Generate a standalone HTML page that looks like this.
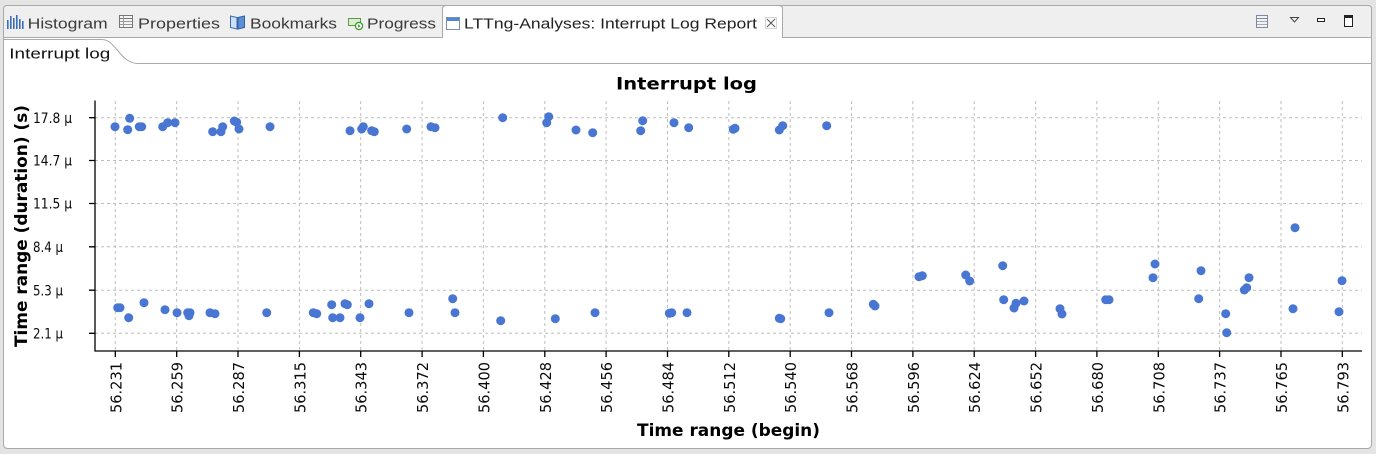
<!DOCTYPE html>
<html>
<head>
<meta charset="utf-8">
<style>
html,body{margin:0;padding:0;background:#e4e4e4;}
svg{display:block;}
text{font-family:"DejaVu Sans","Liberation Sans",sans-serif;}
.tab{font-family:"Liberation Sans","DejaVu Sans",sans-serif;font-size:15px;fill:#3a3a3a;}
.yt{font-size:14px;fill:#0a0a0a;}
.xt{font-size:15px;fill:#0a0a0a;}
.grid{stroke:#bdbdbd;stroke-width:1;stroke-dasharray:3,3;fill:none;}
.pt{fill:#4876d2;}
</style>
</head>
<body>
<svg width="1376" height="454" viewBox="0 0 1376 454" xmlns="http://www.w3.org/2000/svg">
  <rect x="0" y="0" width="1376" height="454" fill="#e4e4e4"/>
  <path d="M3.5,37.5 L3.5,9 Q3.5,5.5 7,5.5 L1368,5.5 Q1371.5,5.5 1371.5,9 L1371.5,37.5" fill="#efefef" stroke="#a9a9a9"/>
  <path d="M3.5,37.5 L3.5,444 Q3.5,448.5 8,448.5 L1367,448.5 Q1371.5,448.5 1371.5,444 L1371.5,37.5 Z" fill="#ffffff" stroke="#a9a9a9"/>
  <path d="M442.5,38 L442.5,9 Q442.5,5.5 446,5.5 L779,5.5 Q782.5,5.5 782.5,9 L782.5,38" fill="#ffffff" stroke="#a9a9a9"/>
  <rect x="443" y="36" width="339" height="3" fill="#ffffff"/>

  <g fill="#3d6fb8">
    <rect x="7" y="20" width="1.6" height="9"/>
    <rect x="10" y="16" width="1.6" height="13"/>
    <rect x="13" y="18" width="1.6" height="11"/>
    <rect x="16" y="15" width="1.6" height="14"/>
    <rect x="19" y="19" width="1.6" height="10"/>
    <rect x="22" y="21" width="1.6" height="8"/>
  </g>
  <g>
    <rect x="119.5" y="15.5" width="13" height="12" fill="#f4f4f4" stroke="#777"/>
    <line x1="120" y1="18.5" x2="132" y2="18.5" stroke="#777"/>
    <line x1="120" y1="21.5" x2="132" y2="21.5" stroke="#999"/>
    <line x1="120" y1="24.5" x2="132" y2="24.5" stroke="#999"/>
    <line x1="123.5" y1="16" x2="123.5" y2="27" stroke="#999"/>
  </g>
  <g>
    <path d="M230.5,16 L237,17.5 L237,29 L230.5,27.5 Z" fill="#cfe0f5" stroke="#3b6db5"/>
    <path d="M238,17.5 L244.5,16 L244.5,27.5 L238,29 Z" fill="#5d8fd6" stroke="#2f5fa5"/>
  </g>
  <g>
    <rect x="348.5" y="18.5" width="12" height="7" fill="#d9efd0" stroke="#5a9a45"/>
    <circle cx="359" cy="26" r="3.6" fill="#ffffff" stroke="#3e9a2c" stroke-width="1.3"/>
    <path d="M358,24.3 L360.6,26 L358,27.7 Z" fill="#3e9a2c"/>
  </g>
  <g>
    <rect x="446.5" y="17.5" width="13" height="12" fill="#ffffff" stroke="#7a8fa8"/>
    <rect x="447" y="18" width="12" height="3" fill="#4f8ad6"/>
  </g>
  <g stroke="#555" stroke-width="1" fill="none">
    <path d="M767,19 L775,27 M775,19 L767,27"/>
    <rect x="765.5" y="17.5" width="11" height="11" stroke="#aaa" stroke-dasharray="1,1"/>
  </g>
  <g>
    <rect x="1256.5" y="15.5" width="11" height="12" fill="#f2f2f2" stroke="#7a8aa0"/>
    <line x1="1257" y1="18.5" x2="1267" y2="18.5" stroke="#7a8aa0"/>
    <line x1="1257" y1="21.5" x2="1267" y2="21.5" stroke="#a0a8b4"/>
    <line x1="1257" y1="24.5" x2="1267" y2="24.5" stroke="#a0a8b4"/>
    <path d="M1290.5,17.5 L1298.5,17.5 L1294.5,22 Z" fill="none" stroke="#444"/>
    <rect x="1317.5" y="18.5" width="7" height="3" fill="#fff" stroke="#222"/>
    <rect x="1344.5" y="15.5" width="8" height="11" fill="#fff" stroke="#222"/>
    <line x1="1345" y1="17" x2="1352" y2="17" stroke="#222" stroke-width="2"/>
  </g>

  <text class="tab" x="27.7" y="28.3" textLength="80" lengthAdjust="spacingAndGlyphs">Histogram</text>
  <text class="tab" x="138" y="28.3" textLength="82" lengthAdjust="spacingAndGlyphs">Properties</text>
  <text class="tab" x="250" y="28.3" textLength="87" lengthAdjust="spacingAndGlyphs">Bookmarks</text>
  <text class="tab" x="367" y="28.3" textLength="69" lengthAdjust="spacingAndGlyphs">Progress</text>
  <text class="tab" x="464" y="28.3" textLength="293" lengthAdjust="spacingAndGlyphs" style="fill:#222">LTTng-Analyses: Interrupt Log Report</text>

  <path d="M4,39.5 L102,39.5 C116,39.5 120,63.5 138,63.5 L1371,63.5" fill="none" stroke="#a9a9a9"/>
  <text class="tab" x="9.3" y="58.3" textLength="101" lengthAdjust="spacingAndGlyphs" style="fill:#111">Interrupt log</text>

  <text x="616" y="89.5" font-size="17" font-weight="bold" fill="#000" textLength="141" lengthAdjust="spacingAndGlyphs">Interrupt log</text>

  <g class="grid">
    <line x1="95" y1="117.7" x2="1362" y2="117.7"/>
    <line x1="95" y1="160.5" x2="1362" y2="160.5"/>
    <line x1="95" y1="203.5" x2="1362" y2="203.5"/>
    <line x1="95" y1="246.8" x2="1362" y2="246.8"/>
    <line x1="95" y1="290.2" x2="1362" y2="290.2"/>
    <line x1="95" y1="333.3" x2="1362" y2="333.3"/>
    <line x1="115.3" y1="101" x2="115.3" y2="351"/>
    <line x1="176.7" y1="101" x2="176.7" y2="351"/>
    <line x1="238.0" y1="101" x2="238.0" y2="351"/>
    <line x1="299.4" y1="101" x2="299.4" y2="351"/>
    <line x1="360.7" y1="101" x2="360.7" y2="351"/>
    <line x1="422.1" y1="101" x2="422.1" y2="351"/>
    <line x1="483.4" y1="101" x2="483.4" y2="351"/>
    <line x1="544.8" y1="101" x2="544.8" y2="351"/>
    <line x1="606.1" y1="101" x2="606.1" y2="351"/>
    <line x1="667.5" y1="101" x2="667.5" y2="351"/>
    <line x1="728.8" y1="101" x2="728.8" y2="351"/>
    <line x1="790.2" y1="101" x2="790.2" y2="351"/>
    <line x1="851.5" y1="101" x2="851.5" y2="351"/>
    <line x1="912.9" y1="101" x2="912.9" y2="351"/>
    <line x1="974.2" y1="101" x2="974.2" y2="351"/>
    <line x1="1035.6" y1="101" x2="1035.6" y2="351"/>
    <line x1="1096.9" y1="101" x2="1096.9" y2="351"/>
    <line x1="1158.3" y1="101" x2="1158.3" y2="351"/>
    <line x1="1219.6" y1="101" x2="1219.6" y2="351"/>
    <line x1="1281.0" y1="101" x2="1281.0" y2="351"/>
    <line x1="1342.3" y1="101" x2="1342.3" y2="351"/>
  </g>

  <g stroke="#000" stroke-width="1.3" fill="none">
    <line x1="95" y1="100.5" x2="95" y2="351.5"/>
    <line x1="94.5" y1="351" x2="1362" y2="351"/>
    <path d="M89,117.7 H95 M89,160.5 H95 M89,203.5 H95 M89,246.8 H95 M89,290.2 H95 M89,333.3 H95"/>
    <path d="M115.3,351 V357 M176.7,351 V357 M238.0,351 V357 M299.4,351 V357 M360.7,351 V357 M422.1,351 V357 M483.4,351 V357 M544.8,351 V357 M606.1,351 V357 M667.5,351 V357 M728.8,351 V357 M790.2,351 V357 M851.5,351 V357 M912.9,351 V357 M974.2,351 V357 M1035.6,351 V357 M1096.9,351 V357 M1158.3,351 V357 M1219.6,351 V357 M1281.0,351 V357 M1342.3,351 V357"/>
  </g>

  <g class="yt">
    <text x="33" y="122.8" textLength="39" lengthAdjust="spacingAndGlyphs">17.8 μ</text>
    <text x="33" y="165.6" textLength="39" lengthAdjust="spacingAndGlyphs">14.7 μ</text>
    <text x="33" y="208.6" textLength="39" lengthAdjust="spacingAndGlyphs">11.5 μ</text>
    <text x="33" y="251.9" textLength="30" lengthAdjust="spacingAndGlyphs">8.4 μ</text>
    <text x="33" y="295.3" textLength="30" lengthAdjust="spacingAndGlyphs">5.3 μ</text>
    <text x="33" y="338.4" textLength="30" lengthAdjust="spacingAndGlyphs">2.1 μ</text>
  </g>

  <text transform="translate(27,226) rotate(-90)" text-anchor="middle" font-size="17" font-weight="bold" fill="#000" textLength="242" lengthAdjust="spacingAndGlyphs">Time range (duration) (s)</text>

  <g class="xt" text-anchor="end">
    <text transform="translate(121.3,362) rotate(-90)" textLength="51" lengthAdjust="spacingAndGlyphs">56.231</text>
    <text transform="translate(182.7,362) rotate(-90)" textLength="51" lengthAdjust="spacingAndGlyphs">56.259</text>
    <text transform="translate(244.0,362) rotate(-90)" textLength="51" lengthAdjust="spacingAndGlyphs">56.287</text>
    <text transform="translate(305.4,362) rotate(-90)" textLength="51" lengthAdjust="spacingAndGlyphs">56.315</text>
    <text transform="translate(366.7,362) rotate(-90)" textLength="51" lengthAdjust="spacingAndGlyphs">56.343</text>
    <text transform="translate(428.1,362) rotate(-90)" textLength="51" lengthAdjust="spacingAndGlyphs">56.372</text>
    <text transform="translate(489.4,362) rotate(-90)" textLength="51" lengthAdjust="spacingAndGlyphs">56.400</text>
    <text transform="translate(550.8,362) rotate(-90)" textLength="51" lengthAdjust="spacingAndGlyphs">56.428</text>
    <text transform="translate(612.1,362) rotate(-90)" textLength="51" lengthAdjust="spacingAndGlyphs">56.456</text>
    <text transform="translate(673.5,362) rotate(-90)" textLength="51" lengthAdjust="spacingAndGlyphs">56.484</text>
    <text transform="translate(734.8,362) rotate(-90)" textLength="51" lengthAdjust="spacingAndGlyphs">56.512</text>
    <text transform="translate(796.2,362) rotate(-90)" textLength="51" lengthAdjust="spacingAndGlyphs">56.540</text>
    <text transform="translate(857.5,362) rotate(-90)" textLength="51" lengthAdjust="spacingAndGlyphs">56.568</text>
    <text transform="translate(918.9,362) rotate(-90)" textLength="51" lengthAdjust="spacingAndGlyphs">56.596</text>
    <text transform="translate(980.2,362) rotate(-90)" textLength="51" lengthAdjust="spacingAndGlyphs">56.624</text>
    <text transform="translate(1041.6,362) rotate(-90)" textLength="51" lengthAdjust="spacingAndGlyphs">56.652</text>
    <text transform="translate(1102.9,362) rotate(-90)" textLength="51" lengthAdjust="spacingAndGlyphs">56.680</text>
    <text transform="translate(1164.3,362) rotate(-90)" textLength="51" lengthAdjust="spacingAndGlyphs">56.708</text>
    <text transform="translate(1225.6,362) rotate(-90)" textLength="51" lengthAdjust="spacingAndGlyphs">56.737</text>
    <text transform="translate(1287.0,362) rotate(-90)" textLength="51" lengthAdjust="spacingAndGlyphs">56.765</text>
    <text transform="translate(1348.3,362) rotate(-90)" textLength="51" lengthAdjust="spacingAndGlyphs">56.793</text>
  </g>

  <text x="637" y="436" font-size="17" font-weight="bold" fill="#000" textLength="183" lengthAdjust="spacingAndGlyphs">Time range (begin)</text>

  <g class="pt">
    <circle cx="115" cy="126.7" r="4.5"/><circle cx="129.7" cy="118.3" r="4.5"/><circle cx="127.7" cy="129.7" r="4.5"/>
    <circle cx="139.3" cy="126.7" r="4.5"/><circle cx="141.7" cy="126.7" r="4.5"/><circle cx="162.7" cy="126.7" r="4.5"/>
    <circle cx="167.7" cy="122.7" r="4.5"/><circle cx="175" cy="122.7" r="4.5"/><circle cx="212.7" cy="131.7" r="4.5"/>
    <circle cx="222.7" cy="126.7" r="4.5"/><circle cx="221" cy="131.7" r="4.5"/><circle cx="234.3" cy="121" r="4.5"/>
    <circle cx="236.7" cy="122.3" r="4.5"/><circle cx="239" cy="129" r="4.5"/><circle cx="270" cy="126.7" r="4.5"/>
    <circle cx="350" cy="130.7" r="4.5"/><circle cx="361.7" cy="129" r="4.5"/><circle cx="363.3" cy="126.7" r="4.5"/>
    <circle cx="371.7" cy="130.7" r="4.5"/><circle cx="374.3" cy="131.7" r="4.5"/><circle cx="406.7" cy="129" r="4.5"/>
    <circle cx="431" cy="126.7" r="4.5"/><circle cx="435" cy="127.7" r="4.5"/>
    <circle cx="502.7" cy="117.7" r="4.5"/><circle cx="548.7" cy="116.7" r="4.5"/><circle cx="546.7" cy="122.7" r="4.5"/>
    <circle cx="576" cy="130" r="4.5"/><circle cx="592.7" cy="132.7" r="4.5"/><circle cx="642.7" cy="120.7" r="4.5"/>
    <circle cx="640.7" cy="130.7" r="4.5"/><circle cx="674" cy="122.7" r="4.5"/><circle cx="688.7" cy="127.7" r="4.5"/>
    <circle cx="733.3" cy="129.3" r="4.5"/><circle cx="735" cy="128.3" r="4.5"/><circle cx="779.3" cy="130" r="4.5"/>
    <circle cx="782.7" cy="125.7" r="4.5"/><circle cx="826.7" cy="125.7" r="4.5"/>

    <circle cx="117.7" cy="307.7" r="4.5"/><circle cx="120" cy="307.7" r="4.5"/><circle cx="128.7" cy="317.7" r="4.5"/>
    <circle cx="144" cy="302.7" r="4.5"/><circle cx="165" cy="309.7" r="4.5"/><circle cx="177" cy="312.7" r="4.5"/>
    <circle cx="187.7" cy="312.7" r="4.5"/><circle cx="190" cy="312.7" r="4.5"/><circle cx="189" cy="315.7" r="4.5"/>
    <circle cx="210" cy="312.7" r="4.5"/><circle cx="215" cy="313.7" r="4.5"/><circle cx="266.7" cy="312.7" r="4.5"/>
    <circle cx="313.3" cy="312.7" r="4.5"/><circle cx="316.7" cy="313.7" r="4.5"/><circle cx="331.7" cy="304.7" r="4.5"/>
    <circle cx="332.7" cy="317.7" r="4.5"/><circle cx="340" cy="317.7" r="4.5"/><circle cx="345" cy="303.7" r="4.5"/>
    <circle cx="347.3" cy="304.7" r="4.5"/><circle cx="360" cy="317.7" r="4.5"/><circle cx="369" cy="303.7" r="4.5"/>
    <circle cx="409" cy="312.7" r="4.5"/><circle cx="452.7" cy="298.7" r="4.5"/><circle cx="455" cy="312.7" r="4.5"/>
    <circle cx="500.7" cy="320.7" r="4.5"/>
    <circle cx="555.3" cy="318.7" r="4.5"/><circle cx="595" cy="312.7" r="4.5"/><circle cx="669.3" cy="313.3" r="4.5"/>
    <circle cx="671.7" cy="312.7" r="4.5"/><circle cx="687" cy="312.7" r="4.5"/><circle cx="779.3" cy="318.3" r="4.5"/>
    <circle cx="780.7" cy="318.7" r="4.5"/><circle cx="829" cy="312.7" r="4.5"/><circle cx="873.3" cy="304.3" r="4.5"/>
    <circle cx="875" cy="306" r="4.5"/><circle cx="919" cy="276.7" r="4.5"/><circle cx="922.3" cy="275.7" r="4.5"/>
    <circle cx="965.7" cy="275" r="4.5"/><circle cx="969.7" cy="281" r="4.5"/><circle cx="1002.7" cy="265.7" r="4.5"/>
    <circle cx="1003.7" cy="299.7" r="4.5"/><circle cx="1014" cy="308" r="4.5"/><circle cx="1016" cy="303.3" r="4.5"/>
    <circle cx="1024" cy="301" r="4.5"/><circle cx="1060" cy="308.7" r="4.5"/><circle cx="1062" cy="314" r="4.5"/>
    <circle cx="1105.7" cy="299.7" r="4.5"/><circle cx="1109" cy="299.7" r="4.5"/><circle cx="1155" cy="264" r="4.5"/>
    <circle cx="1153" cy="277.7" r="4.5"/><circle cx="1201" cy="270.7" r="4.5"/><circle cx="1198.7" cy="298.7" r="4.5"/>
    <circle cx="1225.7" cy="313.7" r="4.5"/><circle cx="1226.7" cy="332.7" r="4.5"/><circle cx="1249" cy="277.7" r="4.5"/>
    <circle cx="1244.3" cy="290" r="4.5"/><circle cx="1246.7" cy="287.7" r="4.5"/><circle cx="1295" cy="227.7" r="4.5"/>
    <circle cx="1293" cy="308.7" r="4.5"/><circle cx="1342" cy="280.7" r="4.5"/><circle cx="1339" cy="311.7" r="4.5"/>
  </g>
</svg>
</body>
</html>
